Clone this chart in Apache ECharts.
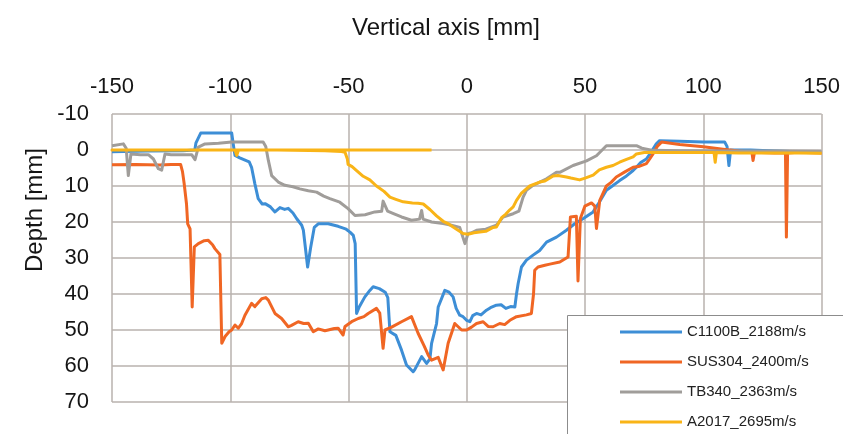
<!DOCTYPE html>
<html>
<head>
<meta charset="utf-8">
<title>Depth profile</title>
<script src="https://cdn.jsdelivr.net/npm/echarts@6/dist/echarts.min.js"></script>
<style>
  html, body { margin: 0; padding: 0; background: #ffffff; }
  #chart { width: 843px; height: 434px; }
</style>
</head>
<body>
<div id="chart"></div>
<script>
// Axis ticks
const xTicks = { min: -150, max: 150, step: 50 };
const yTicks = { min: -10, max: 70, step: 10 };

// Series names
const seriesNames = ['C1100B_2188m/s', 'SUS304_2400m/s', 'TB340_2363m/s', 'A2017_2695m/s'];

// Profiles: [vertical position mm, depth mm]
const c1100b = [
  [-150, 0.5], [-135, 0.3], [-120, 0.2], [-115, 0.0], [-114.5, -2.0], [-112.5, -4.7], [-99.4, -4.7],
  [-98.6, -1.0], [-98.0, 1.5], [-96, 2.2], [-93.5, 2.9], [-92, 3.3], [-91, 4.8], [-89.6, 9.4],
  [-88.2, 13.5], [-86.5, 15.0], [-85.3, 14.9], [-83, 15.8], [-81.1, 17.2], [-79, 16.0], [-77, 16.5],
  [-75.5, 16.2], [-73.5, 17.5], [-71.9, 19.1], [-69.8, 20.9], [-69.1, 22.3], [-67.3, 32.5], [-66, 27],
  [-64.5, 21.5], [-62.8, 20.5], [-58.6, 20.5], [-54.4, 21.2], [-51, 22.0], [-49.4, 22.8], [-48.0, 23.7],
  [-47.2, 26], [-46.6, 45.4], [-45.5, 43.6], [-43.1, 40.8], [-41, 39], [-39.6, 38.0], [-37, 38.5],
  [-34.5, 39.5], [-33.4, 41.0], [-32.5, 50.5], [-30, 51.5], [-27.6, 55.6], [-25.5, 59.7], [-22.7, 61.6],
  [-22.0, 61.0], [-19.1, 57.4], [-17.0, 59.3], [-15.6, 58.0], [-14.9, 53.7], [-12.8, 48.2], [-12.1, 43.6],
  [-9.3, 39.0], [-7.5, 39.5], [-5.8, 40.8], [-4.5, 44], [-3.0, 45.9], [-1.6, 46.3], [-0.1, 47.3],
  [1.3, 47.7], [2.5, 46.0], [4.1, 45.4], [6, 45.8], [8.3, 44.5], [10, 43.8], [12.5, 43.1], [14.5, 43.0],
  [16.5, 44.0], [18.5, 43.5], [20.3, 43.6], [21.0, 40], [21.7, 37.1], [23.1, 32.5], [25.2, 30.6],
  [28.0, 29.2], [30.8, 27.9], [33.7, 25.6], [37.9, 24.2], [42.1, 22.3], [45.6, 20.5], [49.1, 19.1],
  [53.4, 17.2], [56, 14.5], [59.0, 11.2], [61.5, 10.0], [64.6, 8.5], [67.5, 7.2], [70.3, 5.7], [71.7, 4.8],
  [73.5, 3.5], [75.9, 2.5], [78, 0.5], [80.1, -1.7], [81.5, -2.6], [90, -2.4], [100, -2.2], [109, -2.2],
  [110, -1.0], [110.8, 4.3], [111.5, 0.0], [120, 0.0], [130, 0.3], [140, 0.5], [149.1, 0.6]
];

const sus304 = [
  [-150, 4.1], [-140, 4.0], [-130, 4.2], [-125, 4.0], [-121, 4.0], [-120.2, 6], [-119.5, 9.3],
  [-118.5, 15], [-118.0, 20.5], [-117, 21.9], [-116.1, 43.6], [-115.2, 26.9], [-113.5, 26.0],
  [-111, 25.2], [-109.3, 25.1], [-107.5, 26.3], [-106.5, 27.4], [-104.4, 29.0], [-103.6, 53.7],
  [-102.2, 51.8], [-100.5, 50.5], [-99.4, 50.0], [-98, 48.6], [-96.6, 49.5], [-95.2, 48.2],
  [-93.8, 45.9], [-91.0, 42.6], [-89.6, 43.5], [-86.7, 41.3], [-85, 41.0], [-83.9, 41.7], [-81.1, 45.4],
  [-78.3, 46.8], [-75.5, 49.1], [-74.1, 48.7], [-71.3, 47.7], [-69, 48.2], [-67.0, 48.1], [-64.9, 50.5],
  [-62.8, 49.7], [-60, 50.2], [-58.6, 50.0], [-56, 49.6], [-54.4, 49.5], [-52.3, 51.4], [-51.5, 49.0],
  [-48.7, 47.7], [-45.9, 46.8], [-43.5, 46.3], [-41.7, 45.4], [-38.2, 44.0], [-36.8, 45.3], [-35.4, 55.1],
  [-34.6, 50.0], [-31.8, 49.2], [-27.6, 47.7], [-23.4, 46.3], [-20.6, 50.9], [-18, 54.5], [-16.3, 57.0],
  [-14.9, 58.4], [-12.1, 57.6], [-10.0, 61.1], [-7.9, 53.7], [-5.1, 48.2], [-2.2, 50.0], [-0.1, 50.0],
  [2, 49.2], [4.1, 48.2], [6.9, 47.7], [9, 49.0], [11.1, 49.1], [13.9, 48.2], [16, 48.5], [18.2, 47.3],
  [21.0, 46.3], [25.2, 45.8], [27.3, 45.4], [28.2, 40], [28.7, 33.4], [30.1, 32.5], [33, 32.0],
  [35.1, 31.7], [39.3, 31.1], [42.8, 29.7], [43.5, 29.7], [43.8, 18.6], [46.3, 18.4], [47.0, 36.4],
  [48.0, 19.0], [49.9, 15.6], [52.7, 14.7], [54.1, 15.6], [54.8, 21.8], [56.2, 14.0], [59.0, 10.0],
  [61, 9.0], [63.2, 7.5], [67, 6.0], [70.3, 4.8], [73.1, 4.5], [75.9, 3.8], [77.3, 2.5], [78.7, 1.1],
  [80.5, -1.0], [82.3, -2.2], [90, -1.5], [100, -0.9], [108.3, -0.2], [115, 0.3], [120.5, 0.6],
  [121, 2.9], [121.6, 0.6], [130, 0.8], [134.7, 0.8], [135.1, 24.2], [135.6, 0.8], [140, 0.6], [150, 0.8]
];

const tb340 = [
  [-150, -1.2], [-145.2, -1.7], [-144, -0.5], [-143.1, 7.1], [-142, 1.1], [-138, 1.3], [-134.6, 1.3],
  [-132.5, 2.5], [-130.4, 5.2], [-129, 5.6], [-127.6, 1.1], [-125, 1.3], [-120, 1.3], [-116.3, 1.3],
  [-114.9, 2.7], [-113.5, -0.8], [-110.7, -1.7], [-105, -1.9], [-99.4, -2.2], [-92, -2.2], [-86.1, -2.2],
  [-85, -1.0], [-83.9, 2.9], [-82.5, 7.1], [-79.7, 8.9], [-76.9, 9.8], [-73.5, 10.2], [-70.6, 10.8],
  [-67, 11.3], [-63.5, 11.7], [-60.5, 12.8], [-57.9, 13.5], [-53.7, 14.5], [-50.2, 16.3], [-47.3, 18.2],
  [-43, 18.0], [-38.9, 17.2], [-36, 17.0], [-35.4, 14.2], [-34.6, 14.0], [-33.5, 17.0], [-31, 17.7],
  [-27.6, 18.6], [-23.4, 19.5], [-20, 19.2], [-19.1, 16.8], [-18.5, 19.2], [-14.9, 20.0], [-10.0, 20.4],
  [-6.5, 20.9], [-3, 21.5], [-0.8, 26.0], [0.5, 23.2], [2, 23.0], [4.1, 22.3], [8, 22.0], [12.5, 20.9],
  [15.3, 18.6], [19.6, 17.7], [22, 17.0], [23.8, 13.1], [25.2, 11.2], [28.0, 9.8], [33.7, 8.0],
  [37.9, 6.2], [39.3, 6.2], [44.9, 4.3], [50.6, 3.0], [54.8, 1.6], [59.0, -1.2], [65, -1.2], [71.7, -1.2],
  [74, -0.5], [78.7, 0.1], [90, 0.2], [110, 0.3], [130, 0.3], [150, 0.4]
];

const a2017 = [
  [-14.9, 0], [-150, 0], [-130, 0], [-110, 0], [-98, 0], [-97.3, 1.5], [-96.5, 0], [-80, 0], [-60, 0.2],
  [-53, 0.4], [-51.5, 0.6], [-50.5, 2.5], [-50.2, 4.0], [-48.5, 4.6], [-46.6, 5.7], [-43.8, 7.3],
  [-41, 8.3], [-38.2, 10.0], [-35, 11.5], [-32.5, 13.1], [-30, 13.7], [-26.9, 14.4], [-23, 14.7],
  [-20.6, 14.8], [-18.4, 15.0], [-15.5, 16.6], [-12.8, 18.3], [-10, 19.8], [-7.5, 20.6], [-5.8, 21.4],
  [-3.7, 22.3], [-1.6, 23.2], [0.5, 23.4], [3, 23.0], [5.5, 22.8], [8, 22.6], [11.1, 21.5], [12.5, 21.4],
  [14.7, 18.8], [16.5, 17.8], [18.2, 16.6], [19.6, 15.8], [21.0, 14.0], [23.1, 12.0], [26.6, 10.0],
  [30.8, 8.9], [33, 8.6], [36.5, 7.2], [38.5, 7.1], [42.1, 7.5], [44, 7.8], [47.7, 8.3], [50, 7.8],
  [53.4, 7.0], [56, 5.5], [59, 4.8], [61.8, 4.3], [64.6, 3.4], [67.5, 2.6], [70.3, 1.9], [71.7, 1.1],
  [75, 0.7], [85, 0.7], [95, 0.7], [104.5, 0.7], [105, 3.4], [105.5, 0.7], [115, 0.8], [130, 0.8],
  [140, 0.8], [150, 0.9]
];

const profiles = [c1100b, sus304, tb340, a2017];
const colors = ['#3d8ed6', '#f06624', '#a09d9a', '#f9b417'];

const FONT = '"Liberation Sans", Arial, sans-serif';
// Vertical centre of each legend row inside the key box
const legendRowsY = [332, 362, 392, 422];

const chart = echarts.init(document.getElementById('chart'));

chart.setOption({
  animation: false,
  backgroundColor: '#ffffff',
  grid: { left: 112, right: 21, top: 114, bottom: 32, containLabel: false },
  xAxis: {
    type: 'value',
    position: 'top',
    min: xTicks.min,
    max: xTicks.max,
    interval: xTicks.step,
    axisLine: { show: false },
    axisTick: { show: false },
    axisLabel: { fontFamily: FONT, fontSize: 22, color: '#151515', margin: 16 },
    splitLine: { show: true, lineStyle: { color: '#b9b2ae', width: 1.5 } }
  },
  yAxis: {
    type: 'value',
    inverse: true,
    min: yTicks.min,
    max: yTicks.max,
    interval: yTicks.step,
    axisLine: { show: false },
    axisTick: { show: false },
    axisLabel: { fontFamily: FONT, fontSize: 22, color: '#151515', margin: 23 },
    splitLine: { show: true, lineStyle: { color: '#b9b2ae', width: 1.5 } }
  },
  legend: seriesNames.map((name, i) => ({
    orient: 'vertical',
    left: 620,
    top: legendRowsY[i] - 10,
    padding: 0,
    itemGap: 0,
    itemWidth: 62,
    itemHeight: 3,
    icon: 'rect',
    z: 20,
    selectedMode: false,
    textStyle: { fontFamily: FONT, fontSize: 15, color: '#222', lineHeight: 20 },
    data: [name]
  })),
  graphic: [
    {
      type: 'rect',
      z: 10,
      shape: { x: 567.5, y: 315.5, width: 320, height: 160 },
      style: { fill: '#ffffff', stroke: '#8c8c8c', lineWidth: 1 }
    },
    {
      type: 'text',
      x: 446,
      y: 28,
      style: {
        text: 'Vertical axis [mm]',
        font: '24px ' + FONT,
        fill: '#151515',
        textAlign: 'center',
        textVerticalAlign: 'middle'
      }
    },
    {
      type: 'text',
      x: 35,
      y: 210,
      rotation: Math.PI / 2,
      style: {
        text: 'Depth [mm]',
        font: '24px ' + FONT,
        fill: '#151515',
        textAlign: 'center',
        textVerticalAlign: 'middle'
      }
    }
  ],
  series: seriesNames.map((name, i) => ({
    name: name,
    type: 'line',
    data: profiles[i],
    showSymbol: false,
    symbol: 'none',
    color: colors[i],
    z: 2 + i * 0.1,
    lineStyle: { color: colors[i], width: 3, join: 'round' }
  }))
});
</script>
</body>
</html>
